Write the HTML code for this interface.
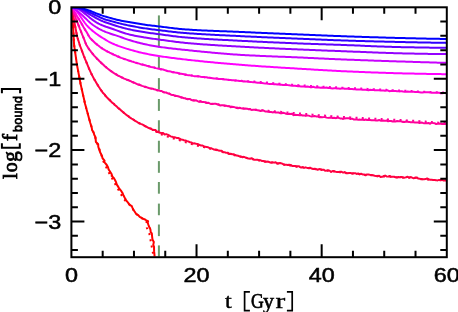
<!DOCTYPE html>
<html><head><meta charset="utf-8"><title>plot</title>
<style>html,body{margin:0;padding:0;background:#fff;}svg{display:block;will-change:transform;}</style></head>
<body>
<svg width="458" height="312" viewBox="0 0 458 312">
<rect x="0" y="0" width="458" height="312" fill="#fff"/>
<defs><clipPath id="c"><rect x="71.4" y="7.3" width="375.4" height="249.9"/></clipPath></defs>
<g stroke="#6a9a6a" stroke-width="2" fill="none">
<path d="M158.9 15.40 V47.50"/>
<path d="M158.9 56.90 V68.10"/>
<path d="M158.9 78.10 V89.60"/>
<path d="M158.9 99.00 V110.90"/>
<path d="M158.9 120.25 V131.75"/>
<path d="M158.9 140.75 V152.75"/>
<path d="M158.9 161.10 V172.80"/>
<path d="M158.9 182.00 V193.70"/>
<path d="M158.9 203.60 V215.25"/>
<path d="M158.9 224.50 V236.10"/>
<path d="M158.9 245.40 V256.50"/>
</g>
<g fill="none" stroke-width="2" stroke-linejoin="round" clip-path="url(#c)">
<path stroke="#ff0000" d="M71.60 7.30 L71.82 9.79 L72.03 12.28 L72.25 14.77 L72.46 17.26 L72.68 19.75 L72.70 20.00 L72.83 22.25 L72.97 24.75 L73.11 27.24 L73.25 29.74 L73.39 32.23 L73.52 34.73 L73.66 37.23 L73.80 39.72 L73.94 42.22 L74.08 44.71 L74.10 45.00 L74.42 47.19 L74.78 49.66 L75.14 52.14 L75.49 54.61 L75.85 57.09 L76.21 59.56 L76.57 62.04 L76.93 64.51 L77.00 65.00 L77.37 66.97 L77.84 69.43 L78.30 71.88 L78.77 74.34 L79.23 76.79 L79.70 79.25 L80.17 81.71 L80.60 84.00 L80.64 84.16 L81.19 86.60 L81.73 89.04 L82.28 91.48 L82.83 93.92 L83.38 96.36 L83.93 98.80 L84.48 101.24 L85.03 103.67 L85.10 104.00 L85.67 106.09 L86.33 108.50 L86.99 110.91 L87.65 113.32 L88.31 115.73 L88.97 118.15 L89.63 120.56 L90.29 122.97 L90.30 123.00 L91.03 125.34 L91.75 127.71 L92.10 130.08 L93.67 132.45 L94.22 134.82 L95.53 137.19 L95.70 139.56 L95.88 141.93 L96.96 143.00 L98.18 144.28 L98.27 146.60 L98.98 148.93 L99.78 151.26 L100.76 153.58 L101.97 155.91 L102.54 158.23 L104.53 160.56 L104.39 162.00 L105.01 162.83 L106.77 165.00 L108.02 167.18 L108.56 169.36 L110.01 171.54 L111.40 173.72 L112.17 175.75 L111.62 175.89 L113.81 178.08 L115.12 180.26 L116.14 182.45 L116.82 184.64 L118.32 186.82 L118.26 187.00 L119.50 189.00 L121.36 191.18 L122.68 193.36 L123.55 195.55 L124.73 197.73 L125.77 199.50 L125.80 199.86 L127.37 201.78 L128.73 203.70 L130.48 205.50 L131.50 205.63 L132.39 207.66 L133.36 209.70 L134.76 211.73 L136.06 213.77 L136.90 214.25 L138.43 215.39 L139.70 216.89 L141.94 218.00 L142.10 218.32 L145.09 219.52 L146.77 220.72 L148.09 221.10 L147.71 222.74 L148.51 225.13 L149.47 227.52 L149.92 228.00 L150.48 229.85 L150.71 232.16 L151.82 233.50 L151.93 234.54 L152.16 237.01 L152.47 239.48 L153.84 241.94 L153.39 244.41 L153.26 244.75 L154.04 246.90 L154.05 249.39 L154.18 251.88 L154.42 254.37 L154.60 256.50"/>
<path stroke="#ff0000" stroke-dasharray="2 4.3" d="M71.60 7.30 L71.82 9.79 L72.03 12.28 L72.25 14.77 L72.46 17.26 L72.68 19.75 L72.70 20.00 L72.83 22.25 L72.97 24.75 L73.11 27.24 L73.25 29.74 L73.39 32.23 L73.52 34.73 L73.66 37.23 L73.80 39.72 L73.94 42.22 L74.08 44.71 L74.10 45.00 L74.42 47.19 L74.78 49.66 L75.14 52.14 L75.49 54.61 L75.85 57.09 L76.21 59.56 L76.57 62.04 L76.93 64.51 L77.00 65.00 L77.37 66.97 L77.84 69.43 L78.30 71.88 L78.77 74.34 L79.23 76.79 L79.70 79.25 L80.17 81.71 L80.60 84.00 L80.64 84.16 L81.19 86.60 L81.73 89.04 L82.28 91.48 L82.83 93.92 L83.38 96.36 L83.93 98.80 L84.48 101.24 L85.03 103.67 L85.10 104.00 L85.67 106.09 L86.33 108.50 L86.99 110.91 L87.65 113.32 L88.31 115.73 L88.97 118.15 L89.63 120.56 L90.29 122.97 L90.30 123.00 L91.08 125.34 L91.88 127.71 L92.67 130.08 L93.47 132.45 L94.26 134.82 L95.05 137.19 L95.85 139.56 L96.64 141.93 L97.00 143.00 L97.50 144.28 L98.42 146.60 L99.34 148.93 L100.17 151.26 L100.92 153.58 L101.66 155.91 L102.41 158.23 L103.16 160.56 L103.63 162.00 L104.03 162.83 L105.10 165.00 L106.17 167.18 L107.24 169.36 L108.31 171.54 L109.50 173.72 L110.65 175.75 L110.73 175.89 L111.94 178.08 L113.16 180.26 L114.37 182.45 L115.59 184.64 L116.80 186.82 L116.90 187.00 L118.02 189.00 L119.24 191.18 L120.46 193.36 L121.69 195.55 L122.91 197.73 L124.18 199.50 L124.55 199.86 L126.50 201.78 L128.46 203.70 L130.20 205.50 L130.29 205.63 L131.75 207.66 L133.20 209.70 L134.65 211.73 L136.10 213.77 L136.45 214.25 L137.97 215.39 L139.97 216.89 L141.45 218.00 L142.02 218.32 L144.22 219.52 L146.13 220.72 L146.68 221.10 L146.55 222.74 L146.36 225.13 L146.79 227.52 L146.94 228.00 L147.74 229.85 L148.73 232.16 L149.31 233.50 L149.50 234.54 L149.96 237.01 L150.42 239.48 L150.87 241.94 L151.33 244.41 L151.39 244.75 L151.77 246.90 L152.23 249.39 L152.69 251.88 L153.16 254.37 L153.55 256.50"/>
<path stroke="#ff0040" d="M71.60 7.35 L73.10 15.02 L73.50 17.04 L74.60 23.06 L75.30 26.95 L76.10 31.20 L77.30 37.03 L77.60 38.00 L79.10 42.82 L79.75 45.01 L80.60 47.25 L82.10 51.17 L83.60 55.30 L84.50 57.40 L85.10 59.08 L86.60 62.72 L88.10 66.34 L89.60 69.83 L90.75 72.43 L91.10 73.19 L92.60 76.11 L94.10 79.01 L95.60 81.48 L97.00 84.00 L97.10 83.91 L98.60 86.46 L100.10 88.81 L101.60 90.97 L103.10 93.04 L104.60 94.44 L105.10 95.36 L106.10 96.56 L107.60 98.14 L109.10 99.40 L110.60 101.04 L112.10 102.66 L113.60 103.57 L114.50 104.67 L115.10 105.30 L116.60 106.41 L118.10 107.94 L119.60 109.04 L121.10 110.38 L122.60 111.65 L124.10 113.03 L125.60 114.19 L127.10 115.49 L128.60 116.33 L129.00 116.73 L130.10 117.66 L131.60 118.62 L133.10 119.34 L134.60 120.56 L136.10 121.30 L137.60 122.29 L139.00 123.04 L139.10 123.22 L140.60 123.86 L142.10 124.36 L143.60 125.18 L145.10 126.21 L146.60 126.79 L148.10 127.69 L149.60 128.25 L151.10 128.61 L152.60 129.90 L154.10 129.87 L155.60 130.05 L157.10 132.08 L158.60 131.27 L158.75 132.22 L160.10 132.84 L161.60 133.11 L163.10 133.00 L164.60 134.47 L166.10 134.12 L167.60 134.65 L169.10 135.48 L170.60 136.36 L172.10 136.67 L173.60 137.31 L175.10 137.33 L176.60 137.88 L178.10 138.00 L179.60 138.74 L181.10 139.51 L182.60 139.65 L184.10 140.38 L185.60 140.48 L186.00 140.59 L187.10 141.15 L188.60 141.53 L190.10 142.27 L191.60 142.58 L193.10 143.58 L194.60 143.35 L196.10 143.80 L197.60 143.96 L199.10 144.78 L200.60 145.46 L202.10 145.40 L203.60 146.09 L205.10 146.80 L206.60 146.94 L208.10 147.23 L209.60 148.19 L211.10 148.31 L212.60 148.85 L214.10 149.55 L214.50 149.65 L215.60 149.44 L217.10 149.81 L218.60 150.53 L220.10 150.82 L221.60 150.64 L223.10 152.19 L224.60 152.18 L226.10 152.87 L227.60 152.63 L229.10 153.92 L230.60 153.68 L232.10 154.26 L233.60 154.22 L235.10 155.05 L236.60 155.41 L238.10 155.80 L239.60 156.38 L241.10 156.60 L242.60 157.25 L243.00 156.84 L244.10 156.89 L245.60 157.55 L247.10 158.08 L248.60 158.61 L250.10 158.76 L251.60 158.15 L253.10 159.20 L254.60 159.87 L256.10 159.66 L257.60 159.74 L259.10 160.31 L260.60 160.30 L262.10 160.97 L263.60 161.00 L265.10 161.76 L266.60 161.71 L268.10 161.54 L269.60 162.25 L271.10 162.62 L272.60 162.34 L274.10 162.64 L275.60 162.22 L277.10 163.59 L278.60 163.30 L280.10 163.00 L281.60 163.36 L283.10 164.14 L284.60 164.71 L286.10 164.64 L287.60 165.07 L289.10 164.74 L290.60 164.89 L292.10 165.89 L293.60 165.98 L295.10 166.02 L296.60 166.70 L298.10 166.14 L299.60 166.54 L300.00 167.11 L301.10 167.56 L302.60 167.13 L304.10 167.94 L305.60 167.36 L307.10 167.90 L308.60 167.94 L310.10 167.66 L311.60 168.52 L313.10 168.97 L314.60 168.80 L316.10 169.04 L317.60 169.75 L319.10 169.03 L320.60 169.15 L322.10 169.65 L323.60 169.65 L325.10 170.74 L326.60 170.57 L328.10 170.35 L329.60 170.63 L331.10 172.03 L332.60 171.00 L334.10 171.12 L335.60 171.67 L337.10 171.97 L338.60 171.99 L340.10 171.76 L341.60 171.84 L343.10 172.61 L344.00 172.48 L344.60 171.99 L346.10 173.13 L347.60 173.15 L349.10 172.95 L350.60 173.10 L352.10 173.43 L353.60 173.26 L355.10 173.18 L356.60 173.92 L358.10 173.46 L359.60 174.25 L361.10 173.76 L362.60 174.38 L364.10 174.51 L365.60 175.33 L367.10 174.48 L368.60 174.50 L370.10 174.90 L371.60 174.88 L373.10 175.20 L374.60 175.68 L376.10 175.94 L377.60 176.38 L379.10 175.66 L380.60 176.97 L382.10 176.86 L383.60 176.21 L385.10 175.59 L386.60 176.47 L388.10 176.63 L389.60 175.90 L391.10 176.83 L392.60 176.83 L394.10 176.71 L395.60 177.29 L397.10 177.51 L398.60 177.06 L400.00 177.38 L400.10 177.08 L401.60 177.09 L403.10 177.44 L404.60 177.64 L406.10 177.29 L407.60 176.75 L409.10 177.76 L410.60 177.03 L412.10 177.68 L413.60 178.32 L415.10 177.77 L416.60 177.45 L417.00 177.39 L418.10 178.53 L419.60 178.65 L421.00 179.19 L421.10 179.33 L422.60 179.14 L424.10 179.19 L425.60 179.10 L427.10 178.47 L428.60 179.13 L430.10 179.74 L431.60 179.79 L433.10 180.08 L434.60 179.97 L436.10 180.14 L437.60 180.41 L439.10 179.88 L440.60 180.13 L442.10 179.70 L443.60 180.62 L445.10 180.31 L446.60 180.47 L446.80 180.84"/>
<path stroke="#ff0040" stroke-dasharray="2 4.3" d="M71.60 7.30 L72.60 12.30 L73.50 17.00 L73.60 17.54 L74.60 23.15 L75.30 27.00 L75.60 28.60 L76.60 33.84 L77.30 37.00 L77.60 38.15 L78.60 41.55 L79.60 44.56 L79.75 45.00 L80.60 47.43 L81.60 50.14 L82.60 52.72 L83.60 55.24 L84.50 57.50 L84.60 57.75 L85.60 60.28 L86.60 62.80 L87.60 65.28 L88.60 67.69 L89.60 70.00 L90.60 72.19 L90.75 72.50 L91.60 74.24 L92.60 76.22 L93.60 78.12 L94.60 79.95 L95.60 81.69 L96.60 83.36 L97.00 84.00 L97.60 84.95 L98.60 86.49 L99.60 87.98 L100.60 89.43 L101.60 90.82 L102.60 92.16 L103.60 93.44 L104.60 94.66 L105.10 95.25 L105.60 95.83 L106.60 96.94 L107.60 98.00 L108.60 99.03 L109.60 100.02 L110.60 100.99 L111.60 101.93 L112.60 102.86 L113.60 103.78 L114.50 104.60 L114.60 104.69 L115.60 105.60 L116.60 106.51 L117.60 107.41 L118.60 108.31 L119.60 109.19 L120.60 110.06 L121.60 110.92 L122.60 111.77 L123.60 112.60 L124.60 113.41 L125.60 114.20 L126.60 114.98 L127.60 115.73 L128.60 116.46 L129.00 116.75 L129.60 117.17 L130.60 117.86 L131.60 118.54 L132.60 119.20 L133.60 119.84 L134.60 120.46 L135.60 121.07 L136.60 121.66 L137.60 122.23 L138.60 122.78 L139.00 123.00 L139.60 123.32 L140.60 123.85 L141.60 124.36 L142.60 124.87 L143.60 125.38 L144.60 125.87 L145.60 126.35 L146.60 126.83 L147.60 127.30 L148.60 127.76 L149.60 128.21 L150.60 128.73 L151.60 129.29 L152.60 129.85 L153.60 130.39 L154.60 130.93 L155.60 131.46 L156.60 131.99 L157.60 132.51 L158.60 133.02 L158.75 133.09 L159.60 133.52 L160.60 134.02 L161.60 134.51 L162.60 134.92 L163.60 135.27 L164.60 135.61 L165.60 135.95 L166.60 136.29 L167.60 136.62 L168.60 136.95 L169.60 137.27 L170.60 137.59 L171.60 137.90 L172.60 138.22 L173.60 138.53 L174.60 138.83 L175.60 139.14 L176.60 139.44 L177.60 139.75 L178.60 140.05 L179.60 140.35 L180.60 140.65 L181.60 140.96 L182.60 141.26 L183.60 141.56 L184.60 141.87 L185.60 142.18 L186.00 142.30 L186.60 142.49 L187.60 142.79 L188.60 143.10 L189.60 143.41 L190.60 143.71 L191.60 144.02 L192.60 144.32 L193.60 144.62 L194.60 144.93 L195.60 145.19 L196.60 145.43 L197.60 145.67 L198.60 145.91 L199.60 146.15 L200.60 146.38 L201.60 146.62 L202.60 146.85 L203.60 147.09 L204.60 147.32 L205.60 147.55 L206.60 147.78 L207.60 148.02 L208.60 148.24 L209.60 148.47 L210.60 148.70 L211.60 148.93 L212.60 149.15 L213.60 149.38 L214.50 149.58 L214.60 149.60 L215.60 149.86 L216.60 150.15 L217.60 150.44 L218.60 150.72 L219.60 151.01 L220.60 151.30 L221.60 151.59 L222.60 151.88 L223.60 152.17 L224.60 152.46 L225.60 152.75 L226.60 153.04 L227.60 153.32 L228.60 153.61 L229.60 153.89 L230.60 154.17 L231.60 154.44 L232.60 154.71 L233.60 154.98 L234.60 155.25 L235.60 155.51 L236.60 155.76 L237.60 156.01 L238.60 156.26 L239.60 156.50 L240.60 156.73 L241.60 156.96 L242.60 157.18 L243.00 157.26 L243.60 157.39 L244.60 157.60 L245.60 157.81 L246.60 158.02 L247.60 158.23 L248.60 158.43 L249.60 158.63 L250.60 158.83 L251.60 159.03 L252.60 159.22 L253.60 159.41 L254.60 159.60 L255.60 159.79 L256.60 159.98 L257.60 160.17 L258.60 160.35 L259.60 160.53 L260.60 160.71 L261.60 160.89 L262.60 161.07 L263.60 161.25 L264.60 161.42 L265.60 161.59 L266.60 161.77 L267.60 161.94 L268.60 162.10 L269.60 162.27 L270.60 162.44 L271.60 162.60 L272.60 162.77 L273.60 162.93 L274.60 163.09 L275.60 163.25 L276.60 163.41 L277.60 163.57 L278.60 163.73 L279.60 163.88 L280.60 164.04 L281.60 164.20 L282.60 164.35 L283.60 164.50 L284.60 164.66 L285.60 164.81 L286.60 164.96 L287.60 165.11 L288.60 165.26 L289.60 165.41 L290.60 165.56 L291.60 165.71 L292.60 165.85 L293.60 166.00 L294.60 166.15 L295.60 166.30 L296.60 166.44 L297.60 166.59 L298.60 166.74 L299.60 166.88 L300.00 166.94 L300.60 167.03 L301.60 167.17 L302.60 167.32 L303.60 167.46 L304.60 167.61 L305.60 167.75 L306.60 167.90 L307.60 168.04 L308.60 168.18 L309.60 168.32 L310.60 168.46 L311.60 168.60 L312.60 168.74 L313.60 168.88 L314.60 169.02 L315.60 169.16 L316.60 169.30 L317.60 169.43 L318.60 169.57 L319.60 169.70 L320.60 169.84 L321.60 169.97 L322.60 170.10 L323.60 170.23 L324.60 170.36 L325.60 170.49 L326.60 170.62 L327.60 170.74 L328.60 170.87 L329.60 170.99 L330.60 171.12 L331.60 171.24 L332.60 171.36 L333.60 171.48 L334.60 171.60 L335.60 171.71 L336.60 171.83 L337.60 171.94 L338.60 172.05 L339.60 172.16 L340.60 172.27 L341.60 172.38 L342.60 172.49 L343.60 172.59 L344.00 172.63 L344.60 172.69 L345.60 172.80 L346.60 172.90 L347.60 173.00 L348.60 173.11 L349.60 173.21 L350.60 173.31 L351.60 173.42 L352.60 173.52 L353.60 173.62 L354.60 173.72 L355.60 173.82 L356.60 173.92 L357.60 174.02 L358.60 174.12 L359.60 174.22 L360.60 174.32 L361.60 174.42 L362.60 174.52 L363.60 174.62 L364.60 174.71 L365.60 174.81 L366.60 174.90 L367.60 175.00 L368.60 175.09 L369.60 175.18 L370.60 175.28 L371.60 175.37 L372.60 175.46 L373.60 175.54 L374.60 175.63 L375.60 175.72 L376.60 175.80 L377.60 175.89 L378.60 175.97 L379.60 176.05 L380.60 176.13 L381.60 176.21 L382.60 176.29 L383.60 176.36 L384.60 176.43 L385.60 176.51 L386.60 176.58 L387.60 176.65 L388.60 176.72 L389.60 176.78 L390.60 176.85 L391.60 176.91 L392.60 176.97 L393.60 177.03 L394.60 177.09 L395.60 177.14 L396.60 177.19 L397.60 177.25 L398.60 177.30 L399.60 177.34 L400.00 177.36 L400.60 177.39 L401.60 177.42 L402.60 177.46 L403.60 177.48 L404.60 177.51 L405.60 177.53 L406.60 177.55 L407.60 177.57 L408.60 177.59 L409.60 177.62 L410.60 177.64 L411.60 177.67 L412.60 177.70 L413.60 177.74 L414.60 177.79 L415.60 177.85 L416.60 177.91 L417.00 177.94 L417.60 178.03 L418.60 178.33 L419.60 178.69 L420.60 178.97 L421.00 179.03 L421.60 179.09 L422.60 179.19 L423.60 179.28 L424.60 179.37 L425.60 179.45 L426.60 179.53 L427.60 179.61 L428.60 179.68 L429.60 179.75 L430.60 179.81 L431.60 179.87 L432.60 179.93 L433.60 179.98 L434.60 180.03 L435.60 180.07 L436.60 180.11 L437.60 180.15 L438.60 180.18 L439.60 180.21 L440.60 180.23 L441.60 180.26 L442.60 180.27 L443.60 180.28 L444.60 180.29 L445.60 180.30 L446.60 180.30 L446.80 180.30"/>
<path stroke="#ff0099" d="M71.60 7.43 L73.10 11.15 L74.00 13.59 L74.60 14.91 L76.00 18.85 L76.10 19.08 L77.60 22.78 L78.00 24.16 L79.10 26.68 L80.00 29.08 L80.60 30.45 L82.00 34.12 L82.10 34.41 L83.60 37.90 L84.00 38.82 L85.10 41.89 L86.40 45.10 L86.60 45.33 L88.10 47.79 L89.60 50.02 L90.00 50.17 L91.10 51.87 L92.60 53.65 L94.10 55.61 L95.60 57.16 L97.00 58.62 L97.10 58.81 L98.60 60.21 L100.10 61.83 L101.60 63.15 L103.00 64.45 L103.10 64.50 L104.60 66.04 L106.10 67.24 L107.60 68.58 L109.10 69.76 L109.50 69.90 L110.60 70.87 L112.10 71.89 L113.60 72.90 L115.10 73.76 L116.60 74.66 L118.00 75.59 L118.10 75.82 L119.60 76.24 L121.10 77.15 L122.60 77.75 L124.10 78.57 L125.60 79.19 L127.10 79.92 L128.60 80.09 L129.00 80.53 L130.10 80.95 L131.60 81.70 L133.10 82.26 L134.60 82.90 L136.10 83.67 L137.60 84.42 L139.10 84.43 L140.60 85.29 L142.10 85.90 L143.60 86.37 L144.00 86.46 L145.10 86.68 L146.60 87.18 L148.10 87.80 L149.60 88.24 L151.10 88.53 L152.60 88.63 L154.10 89.29 L155.60 89.58 L157.10 90.21 L158.60 90.49 L158.75 90.31 L160.10 90.94 L161.60 90.98 L163.10 92.04 L164.60 92.61 L166.10 92.38 L167.60 93.34 L169.10 93.39 L170.60 94.50 L172.10 94.93 L173.60 95.06 L175.10 95.90 L176.60 95.93 L178.10 96.32 L179.60 96.78 L181.10 97.33 L182.60 97.67 L184.10 98.20 L185.60 98.32 L186.00 98.83 L187.10 99.15 L188.60 99.03 L190.10 99.08 L191.60 100.04 L193.10 100.48 L194.60 100.40 L196.10 100.37 L197.60 101.14 L199.10 101.81 L200.60 101.08 L202.10 102.08 L203.60 102.12 L205.10 102.24 L206.60 102.92 L208.10 102.65 L209.60 103.39 L211.10 103.96 L212.60 103.88 L214.10 103.82 L215.60 103.80 L217.10 104.20 L218.60 104.27 L220.10 105.55 L221.60 105.23 L223.10 105.23 L224.60 105.39 L226.10 105.69 L227.60 106.13 L229.10 106.07 L230.60 107.19 L232.10 106.68 L233.60 106.89 L235.10 107.43 L236.60 107.99 L238.10 108.16 L239.60 107.83 L241.10 108.26 L242.60 108.44 L243.00 108.61 L244.10 108.68 L245.60 108.52 L247.10 108.63 L248.60 109.26 L250.10 109.05 L251.60 110.01 L253.10 109.81 L254.60 109.69 L256.10 110.09 L257.60 110.22 L259.10 110.52 L260.60 111.03 L262.10 110.50 L263.60 110.55 L265.10 111.40 L266.60 111.42 L268.10 111.70 L269.60 111.96 L271.10 111.94 L272.60 112.41 L274.10 112.07 L275.60 112.53 L277.10 112.42 L278.60 112.50 L280.10 113.18 L281.60 113.33 L283.10 112.74 L284.60 113.14 L286.10 113.72 L287.60 114.11 L289.10 113.74 L290.60 114.04 L292.10 113.82 L293.60 115.14 L295.10 114.68 L296.60 114.95 L298.10 115.02 L299.60 115.24 L300.00 115.18 L301.10 115.00 L302.60 115.46 L304.10 115.40 L305.60 115.90 L307.10 115.43 L308.60 115.62 L310.10 116.11 L311.60 116.43 L313.10 116.21 L314.60 116.08 L316.10 116.39 L317.60 116.40 L319.10 117.24 L320.60 117.06 L322.10 117.29 L323.60 117.12 L325.10 116.98 L326.60 117.62 L328.10 117.88 L329.60 117.67 L331.10 117.60 L332.60 118.04 L334.10 117.71 L335.60 118.16 L337.10 117.82 L338.60 117.85 L340.10 118.41 L341.60 118.44 L343.10 119.01 L344.00 118.42 L344.60 118.55 L346.10 118.29 L347.60 118.17 L349.10 118.29 L350.60 119.05 L352.10 118.65 L353.60 119.43 L355.10 119.61 L356.60 119.18 L358.10 119.85 L359.60 119.50 L361.10 119.85 L362.60 119.53 L364.10 119.97 L365.60 119.48 L367.10 120.02 L368.60 119.78 L370.10 119.96 L371.60 120.26 L373.10 120.20 L374.60 120.20 L376.10 120.52 L377.60 120.62 L379.10 120.04 L380.60 120.70 L382.10 120.81 L383.60 120.46 L385.10 120.87 L386.60 120.44 L388.10 121.34 L389.60 120.91 L391.10 121.04 L392.60 121.50 L394.10 121.17 L395.60 121.48 L397.10 121.06 L398.60 121.28 L400.10 121.12 L401.60 121.56 L403.10 122.01 L404.00 121.82 L404.60 122.05 L406.10 121.56 L407.60 121.69 L409.10 121.90 L410.60 122.29 L412.10 122.31 L413.60 122.28 L415.10 122.56 L416.60 122.41 L418.10 122.54 L419.60 123.02 L421.10 122.54 L422.60 122.85 L424.10 123.37 L425.60 123.00 L427.10 123.27 L428.60 122.96 L430.10 123.82 L431.60 122.64 L433.10 123.06 L434.60 123.17 L436.10 124.06 L437.60 123.77 L439.10 123.67 L440.60 123.45 L442.10 124.03 L443.60 124.05 L445.10 123.89 L446.60 123.74 L446.80 123.87"/>
<path stroke="#ff0099" stroke-dasharray="2 4.3" d="M71.60 7.30 L72.60 9.86 L73.60 12.46 L74.00 13.50 L74.60 15.08 L75.60 17.74 L76.00 18.80 L76.60 20.37 L77.60 22.97 L78.00 24.00 L78.60 25.51 L79.60 28.00 L80.00 29.00 L80.60 30.50 L81.60 33.00 L82.00 34.00 L82.60 35.50 L83.60 38.00 L84.00 39.00 L84.60 40.56 L85.60 43.20 L86.40 45.00 L86.60 45.38 L87.60 47.09 L88.60 48.59 L89.60 49.96 L90.00 50.50 L90.60 51.30 L91.60 52.58 L92.60 53.82 L93.60 55.00 L94.60 56.14 L95.60 57.25 L96.60 58.33 L97.00 58.75 L97.60 59.37 L98.60 60.38 L99.60 61.36 L100.60 62.31 L101.60 63.23 L102.60 64.14 L103.00 64.50 L103.60 65.04 L104.60 65.93 L105.60 66.82 L106.60 67.68 L107.60 68.52 L108.60 69.32 L109.50 70.00 L109.60 70.07 L110.60 70.80 L111.60 71.51 L112.60 72.19 L113.60 72.86 L114.60 73.50 L115.60 74.12 L116.60 74.71 L117.60 75.28 L118.00 75.50 L118.60 75.82 L119.60 76.34 L120.60 76.84 L121.60 77.33 L122.60 77.80 L123.60 78.26 L124.60 78.70 L125.60 79.14 L126.60 79.57 L127.60 80.00 L128.60 80.43 L129.00 80.60 L129.60 80.86 L130.60 81.28 L131.60 81.71 L132.60 82.13 L133.60 82.56 L134.60 82.97 L135.60 83.38 L136.60 83.79 L137.60 84.19 L138.60 84.58 L139.60 84.96 L140.60 85.33 L141.60 85.69 L142.60 86.04 L143.60 86.37 L144.00 86.50 L144.60 86.69 L145.60 87.00 L146.60 87.29 L147.60 87.57 L148.60 87.84 L149.60 88.11 L150.60 88.37 L151.60 88.63 L152.60 88.88 L153.60 89.14 L154.60 89.39 L155.60 89.65 L156.60 89.91 L157.60 90.18 L158.60 90.46 L158.75 90.50 L159.60 90.74 L160.60 91.03 L161.60 91.33 L162.60 91.64 L163.60 91.94 L164.60 92.26 L165.60 92.57 L166.60 92.89 L167.60 93.21 L168.60 93.53 L169.60 93.85 L170.60 94.17 L171.60 94.50 L172.60 94.82 L173.60 95.13 L174.60 95.45 L175.60 95.76 L176.60 96.06 L177.60 96.36 L178.60 96.66 L179.60 96.95 L180.60 97.23 L181.60 97.50 L182.60 97.77 L183.60 98.03 L184.60 98.27 L185.60 98.51 L186.00 98.60 L186.60 98.73 L187.60 98.96 L188.60 99.18 L189.60 99.40 L190.60 99.61 L191.60 99.83 L192.60 100.04 L193.60 100.25 L194.60 100.45 L195.60 100.66 L196.60 100.86 L197.60 101.06 L198.60 101.26 L199.60 101.45 L200.60 101.65 L201.60 101.84 L202.60 102.03 L203.60 102.22 L204.60 102.40 L205.60 102.59 L206.60 102.77 L207.60 102.95 L208.60 103.13 L209.60 103.31 L210.60 103.48 L211.60 103.65 L212.60 103.83 L213.60 104.00 L214.60 104.17 L215.60 104.33 L216.60 104.50 L217.60 104.66 L218.60 104.83 L219.60 104.99 L220.60 105.15 L221.60 105.31 L222.60 105.46 L223.60 105.62 L224.60 105.78 L225.60 105.93 L226.60 106.08 L227.60 106.23 L228.60 106.38 L229.60 106.53 L230.60 106.68 L231.60 106.83 L232.60 106.98 L233.60 107.12 L234.60 107.27 L235.60 107.41 L236.60 107.55 L237.60 107.70 L238.60 107.84 L239.60 107.98 L240.60 108.10 L241.60 108.21 L242.60 108.32 L243.00 108.36 L243.60 108.42 L244.60 108.53 L245.60 108.64 L246.60 108.74 L247.60 108.85 L248.60 108.95 L249.60 109.05 L250.60 109.16 L251.60 109.26 L252.60 109.36 L253.60 109.46 L254.60 109.56 L255.60 109.65 L256.60 109.75 L257.60 109.85 L258.60 109.94 L259.60 110.04 L260.60 110.13 L261.60 110.22 L262.60 110.32 L263.60 110.41 L264.60 110.50 L265.60 110.59 L266.60 110.68 L267.60 110.76 L268.60 110.85 L269.60 110.94 L270.60 111.02 L271.60 111.11 L272.60 111.19 L273.60 111.27 L274.60 111.36 L275.60 111.44 L276.60 111.52 L277.60 111.60 L278.60 111.68 L279.60 111.76 L280.60 111.84 L281.60 111.94 L282.60 112.03 L283.60 112.12 L284.60 112.21 L285.60 112.30 L286.60 112.39 L287.60 112.47 L288.60 112.56 L289.60 112.65 L290.60 112.73 L291.60 112.82 L292.60 112.90 L293.60 112.98 L294.60 113.07 L295.60 113.15 L296.60 113.23 L297.60 113.31 L298.60 113.39 L299.60 113.47 L300.00 113.50 L300.60 113.56 L301.60 113.65 L302.60 113.74 L303.60 113.83 L304.60 113.92 L305.60 114.01 L306.60 114.10 L307.60 114.19 L308.60 114.28 L309.60 114.37 L310.60 114.46 L311.60 114.54 L312.60 114.63 L313.60 114.71 L314.60 114.80 L315.60 114.88 L316.60 114.97 L317.60 115.05 L318.60 115.13 L319.60 115.21 L320.60 115.29 L321.60 115.37 L322.60 115.45 L323.60 115.53 L324.60 115.61 L325.60 115.69 L326.60 115.77 L327.60 115.84 L328.60 115.92 L329.60 115.99 L330.60 116.07 L331.60 116.14 L332.60 116.21 L333.60 116.29 L334.60 116.36 L335.60 116.43 L336.60 116.50 L337.60 116.57 L338.60 116.64 L339.60 116.71 L340.60 116.77 L341.60 116.84 L342.60 116.91 L343.60 116.97 L344.00 117.00 L344.60 117.04 L345.60 117.10 L346.60 117.17 L347.60 117.23 L348.60 117.29 L349.60 117.35 L350.60 117.41 L351.60 117.47 L352.60 117.53 L353.60 117.59 L354.60 117.65 L355.60 117.71 L356.60 117.77 L357.60 117.82 L358.60 117.88 L359.60 117.93 L360.60 117.99 L361.60 118.04 L362.60 118.10 L363.60 118.15 L364.60 118.21 L365.60 118.26 L366.60 118.31 L367.60 118.36 L368.60 118.42 L369.60 118.47 L370.60 118.52 L371.60 118.57 L372.60 118.62 L373.60 118.67 L374.60 118.73 L375.60 118.78 L376.60 118.83 L377.60 118.88 L378.60 118.93 L379.60 118.98 L380.60 119.03 L381.60 119.08 L382.60 119.13 L383.60 119.18 L384.60 119.23 L385.60 119.28 L386.60 119.33 L387.60 119.38 L388.60 119.43 L389.60 119.49 L390.60 119.54 L391.60 119.59 L392.60 119.64 L393.60 119.69 L394.60 119.74 L395.60 119.80 L396.60 119.85 L397.60 119.90 L398.60 119.96 L399.60 120.01 L400.60 120.06 L401.60 120.12 L402.60 120.17 L403.60 120.23 L404.00 120.25 L404.60 120.28 L405.60 120.34 L406.60 120.40 L407.60 120.45 L408.60 120.51 L409.60 120.56 L410.60 120.62 L411.60 120.68 L412.60 120.73 L413.60 120.79 L414.60 120.85 L415.60 120.90 L416.60 120.96 L417.60 121.02 L418.60 121.07 L419.60 121.13 L420.60 121.20 L421.60 121.28 L422.60 121.36 L423.60 121.44 L424.60 121.52 L425.60 121.60 L426.60 121.68 L427.60 121.76 L428.60 121.84 L429.60 121.92 L430.60 122.00 L431.60 122.08 L432.60 122.16 L433.60 122.24 L434.60 122.32 L435.60 122.40 L436.60 122.48 L437.60 122.56 L438.60 122.64 L439.60 122.72 L440.60 122.80 L441.60 122.88 L442.60 122.96 L443.60 123.04 L444.60 123.12 L445.60 123.20 L446.60 123.28 L446.80 123.30"/>
<path stroke="#ff00cc" d="M71.60 7.31 L73.10 9.76 L74.60 12.21 L76.00 14.49 L76.10 14.56 L77.60 17.14 L78.00 17.74 L79.10 19.61 L80.60 22.10 L82.00 24.36 L82.10 24.51 L83.60 27.18 L85.10 29.71 L86.00 31.16 L86.60 32.04 L88.10 34.83 L89.60 37.24 L90.20 38.07 L91.10 39.02 L92.60 40.60 L94.10 42.02 L95.60 43.40 L97.10 44.52 L97.60 44.99 L98.60 45.76 L100.10 47.00 L101.60 47.98 L103.00 49.02 L103.10 49.03 L104.60 49.94 L106.10 50.80 L107.60 51.61 L109.10 52.20 L109.50 52.56 L110.60 53.09 L112.10 53.78 L113.60 54.60 L115.10 55.23 L116.60 55.98 L118.00 56.46 L118.10 56.49 L119.60 57.23 L121.10 57.88 L122.60 58.37 L124.10 58.95 L125.60 59.41 L127.10 59.88 L128.60 60.45 L129.00 60.69 L130.10 60.85 L131.60 61.41 L133.10 61.78 L134.60 62.36 L136.10 62.85 L137.60 63.15 L139.10 63.62 L140.60 64.15 L142.10 64.48 L143.60 64.82 L144.00 64.92 L145.10 65.18 L146.60 65.75 L148.10 66.05 L149.60 66.55 L151.10 67.00 L152.60 67.15 L154.10 67.54 L155.60 68.11 L157.10 68.38 L158.60 68.75 L158.75 68.50 L160.10 69.21 L161.60 69.30 L163.10 69.45 L164.60 70.06 L166.10 70.58 L167.60 71.19 L169.10 71.18 L170.60 71.39 L172.10 72.25 L173.60 72.30 L175.10 72.57 L176.60 72.78 L178.10 73.10 L179.60 73.78 L181.10 73.81 L182.60 74.05 L184.10 74.31 L185.60 74.87 L186.00 74.61 L187.10 74.96 L188.60 75.14 L190.10 75.36 L191.60 75.41 L193.10 75.85 L194.60 76.20 L196.10 76.16 L197.60 76.23 L199.10 76.37 L200.60 76.78 L202.10 76.90 L203.60 77.11 L205.10 77.31 L206.60 77.27 L208.10 77.78 L209.60 77.87 L211.10 77.99 L212.60 78.21 L214.10 78.48 L215.60 78.51 L217.10 78.53 L218.60 78.99 L220.10 78.91 L221.60 79.02 L223.10 79.05 L224.60 79.43 L226.10 79.43 L227.60 79.65 L229.10 79.95 L230.60 80.03 L232.10 80.33 L233.60 80.37 L235.10 80.41 L236.60 80.57 L238.10 80.69 L239.60 81.01 L241.10 81.06 L242.60 81.15 L243.00 81.38 L244.10 81.37 L245.60 81.44 L247.10 81.43 L248.60 81.87 L250.10 81.99 L251.60 82.11 L253.10 82.18 L254.60 82.27 L256.10 82.50 L257.60 82.71 L259.10 82.80 L260.60 82.94 L262.10 83.04 L263.60 83.30 L265.10 83.42 L266.60 83.41 L268.10 83.78 L269.60 83.92 L271.10 84.06 L272.60 84.05 L274.10 84.17 L275.60 84.16 L277.10 84.58 L278.60 84.27 L280.10 84.66 L281.60 84.80 L283.10 85.10 L284.60 85.09 L286.10 85.07 L287.60 85.12 L289.10 85.34 L290.60 85.58 L292.10 85.69 L293.60 85.76 L295.10 85.80 L296.60 85.98 L298.10 86.27 L299.60 86.06 L300.00 86.26 L301.10 86.57 L302.60 86.51 L304.10 86.46 L305.60 86.72 L307.10 86.60 L308.60 86.81 L310.10 87.14 L311.60 87.28 L313.10 86.83 L314.60 87.28 L316.10 87.55 L317.60 87.27 L319.10 87.47 L320.60 87.74 L322.10 87.53 L323.60 87.75 L325.10 87.76 L326.60 87.56 L328.10 87.98 L329.60 87.98 L331.10 88.23 L332.60 88.48 L334.10 88.35 L335.60 88.27 L337.10 88.47 L338.60 88.51 L340.10 88.71 L341.60 88.41 L343.10 88.53 L344.00 88.44 L344.60 88.87 L346.10 88.85 L347.60 88.83 L349.10 88.90 L350.60 88.99 L352.10 89.01 L353.60 89.18 L355.10 89.22 L356.60 89.58 L358.10 89.49 L359.60 89.39 L361.10 89.49 L362.60 89.83 L364.10 89.79 L365.60 89.83 L367.10 89.96 L368.60 90.16 L370.10 89.81 L371.60 89.95 L373.10 89.86 L374.60 90.27 L376.10 90.20 L377.60 90.22 L379.10 90.28 L380.60 90.56 L382.10 90.50 L383.60 90.51 L385.10 90.84 L386.60 90.56 L388.10 90.59 L389.60 91.24 L391.10 90.86 L392.60 90.90 L394.10 90.93 L395.60 91.09 L397.10 91.29 L398.60 91.35 L400.00 91.38 L400.10 91.26 L401.60 91.15 L403.10 91.48 L404.60 91.73 L406.10 91.72 L407.60 91.60 L409.10 91.81 L410.60 91.70 L412.10 91.81 L413.60 91.70 L415.10 91.90 L416.60 92.03 L418.10 92.05 L419.60 92.25 L421.10 92.48 L422.60 92.46 L424.10 92.28 L425.60 92.28 L427.10 92.35 L428.60 92.36 L430.10 92.58 L431.60 92.70 L433.10 92.72 L434.60 92.79 L436.10 92.84 L437.60 92.86 L439.10 92.83 L440.60 93.26 L442.10 93.22 L443.60 92.99 L445.10 93.05 L446.60 93.15 L446.80 93.25"/>
<path stroke="#ff00cc" stroke-dasharray="2 4.3" d="M71.60 7.30 L72.60 8.93 L73.60 10.56 L74.60 12.20 L75.60 13.84 L76.00 14.50 L76.60 15.49 L77.60 17.14 L78.00 17.80 L78.60 18.79 L79.60 20.43 L80.60 22.08 L81.60 23.73 L82.00 24.40 L82.60 25.41 L83.60 27.12 L84.60 28.84 L85.60 30.53 L86.00 31.20 L86.60 32.22 L87.60 33.96 L88.60 35.67 L89.60 37.21 L90.20 38.00 L90.60 38.48 L91.60 39.61 L92.60 40.64 L93.60 41.59 L94.60 42.49 L95.60 43.35 L96.60 44.18 L97.60 45.00 L98.60 45.81 L99.60 46.60 L100.60 47.36 L101.60 48.07 L102.60 48.75 L103.00 49.00 L103.60 49.37 L104.60 49.95 L105.60 50.50 L106.60 51.03 L107.60 51.54 L108.60 52.05 L109.50 52.50 L109.60 52.55 L110.60 53.05 L111.60 53.55 L112.60 54.04 L113.60 54.52 L114.60 54.99 L115.60 55.45 L116.60 55.90 L117.60 56.33 L118.00 56.50 L118.60 56.75 L119.60 57.16 L120.60 57.56 L121.60 57.95 L122.60 58.33 L123.60 58.71 L124.60 59.08 L125.60 59.43 L126.60 59.79 L127.60 60.13 L128.60 60.47 L129.00 60.60 L129.60 60.80 L130.60 61.12 L131.60 61.44 L132.60 61.75 L133.60 62.05 L134.60 62.35 L135.60 62.65 L136.60 62.94 L137.60 63.22 L138.60 63.51 L139.60 63.79 L140.60 64.07 L141.60 64.34 L142.60 64.62 L143.60 64.89 L144.00 65.00 L144.60 65.16 L145.60 65.43 L146.60 65.70 L147.60 65.96 L148.60 66.23 L149.60 66.49 L150.60 66.74 L151.60 67.00 L152.60 67.25 L153.60 67.50 L154.60 67.75 L155.60 67.99 L156.60 68.24 L157.60 68.48 L158.60 68.71 L158.75 68.75 L159.60 68.95 L160.60 69.19 L161.60 69.43 L162.60 69.67 L163.60 69.91 L164.60 70.15 L165.60 70.40 L166.60 70.64 L167.60 70.88 L168.60 71.12 L169.60 71.35 L170.60 71.59 L171.60 71.82 L172.60 72.05 L173.60 72.28 L174.60 72.50 L175.60 72.72 L176.60 72.94 L177.60 73.15 L178.60 73.35 L179.60 73.56 L180.60 73.75 L181.60 73.94 L182.60 74.13 L183.60 74.30 L184.60 74.47 L185.60 74.64 L186.00 74.70 L186.60 74.79 L187.60 74.95 L188.60 75.10 L189.60 75.25 L190.60 75.39 L191.60 75.54 L192.60 75.68 L193.60 75.82 L194.60 75.96 L195.60 76.10 L196.60 76.23 L197.60 76.37 L198.60 76.50 L199.60 76.63 L200.60 76.75 L201.60 76.88 L202.60 77.01 L203.60 77.13 L204.60 77.25 L205.60 77.37 L206.60 77.49 L207.60 77.61 L208.60 77.72 L209.60 77.84 L210.60 77.95 L211.60 78.06 L212.60 78.17 L213.60 78.28 L214.60 78.39 L215.60 78.50 L216.60 78.61 L217.60 78.71 L218.60 78.82 L219.60 78.92 L220.60 79.02 L221.60 79.13 L222.60 79.23 L223.60 79.33 L224.60 79.43 L225.60 79.53 L226.60 79.63 L227.60 79.73 L228.60 79.83 L229.60 79.93 L230.60 80.03 L231.60 80.13 L232.60 80.23 L233.60 80.32 L234.60 80.42 L235.60 80.50 L236.60 80.55 L237.60 80.61 L238.60 80.67 L239.60 80.73 L240.60 80.79 L241.60 80.85 L242.60 80.91 L243.00 80.93 L243.60 80.97 L244.60 81.02 L245.60 81.08 L246.60 81.14 L247.60 81.20 L248.60 81.26 L249.60 81.32 L250.60 81.38 L251.60 81.43 L252.60 81.49 L253.60 81.55 L254.60 81.61 L255.60 81.66 L256.60 81.72 L257.60 81.78 L258.60 81.83 L259.60 81.89 L260.60 81.97 L261.60 82.06 L262.60 82.15 L263.60 82.25 L264.60 82.34 L265.60 82.43 L266.60 82.53 L267.60 82.62 L268.60 82.71 L269.60 82.80 L270.60 82.89 L271.60 82.98 L272.60 83.07 L273.60 83.16 L274.60 83.25 L275.60 83.33 L276.60 83.42 L277.60 83.51 L278.60 83.59 L279.60 83.68 L280.60 83.76 L281.60 83.85 L282.60 83.93 L283.60 84.01 L284.60 84.09 L285.60 84.17 L286.60 84.25 L287.60 84.33 L288.60 84.41 L289.60 84.49 L290.60 84.57 L291.60 84.64 L292.60 84.72 L293.60 84.79 L294.60 84.87 L295.60 84.94 L296.60 85.01 L297.60 85.08 L298.60 85.15 L299.60 85.22 L300.00 85.25 L300.60 85.29 L301.60 85.36 L302.60 85.43 L303.60 85.49 L304.60 85.56 L305.60 85.62 L306.60 85.69 L307.60 85.75 L308.60 85.81 L309.60 85.87 L310.60 85.93 L311.60 86.00 L312.60 86.06 L313.60 86.12 L314.60 86.17 L315.60 86.23 L316.60 86.29 L317.60 86.35 L318.60 86.41 L319.60 86.46 L320.60 86.52 L321.60 86.57 L322.60 86.63 L323.60 86.68 L324.60 86.74 L325.60 86.79 L326.60 86.85 L327.60 86.90 L328.60 86.95 L329.60 87.01 L330.60 87.06 L331.60 87.11 L332.60 87.17 L333.60 87.22 L334.60 87.27 L335.60 87.32 L336.60 87.37 L337.60 87.42 L338.60 87.47 L339.60 87.53 L340.60 87.58 L341.60 87.63 L342.60 87.68 L343.60 87.73 L344.00 87.75 L344.60 87.78 L345.60 87.83 L346.60 87.88 L347.60 87.93 L348.60 87.98 L349.60 88.03 L350.60 88.08 L351.60 88.13 L352.60 88.18 L353.60 88.22 L354.60 88.27 L355.60 88.32 L356.60 88.37 L357.60 88.42 L358.60 88.46 L359.60 88.51 L360.60 88.56 L361.60 88.61 L362.60 88.66 L363.60 88.72 L364.60 88.77 L365.60 88.82 L366.60 88.87 L367.60 88.92 L368.60 88.97 L369.60 89.02 L370.60 89.07 L371.60 89.13 L372.60 89.18 L373.60 89.23 L374.60 89.28 L375.60 89.33 L376.60 89.38 L377.60 89.43 L378.60 89.48 L379.60 89.53 L380.60 89.58 L381.60 89.63 L382.60 89.67 L383.60 89.72 L384.60 89.77 L385.60 89.82 L386.60 89.87 L387.60 89.92 L388.60 89.97 L389.60 90.02 L390.60 90.07 L391.60 90.12 L392.60 90.17 L393.60 90.22 L394.60 90.27 L395.60 90.31 L396.60 90.36 L397.60 90.41 L398.60 90.46 L399.60 90.51 L400.00 90.53 L400.60 90.56 L401.60 90.61 L402.60 90.66 L403.60 90.71 L404.60 90.76 L405.60 90.80 L406.60 90.85 L407.60 90.90 L408.60 90.95 L409.60 91.00 L410.60 91.05 L411.60 91.10 L412.60 91.14 L413.60 91.19 L414.60 91.24 L415.60 91.29 L416.60 91.34 L417.60 91.38 L418.60 91.43 L419.60 91.48 L420.60 91.53 L421.60 91.58 L422.60 91.62 L423.60 91.67 L424.60 91.72 L425.60 91.77 L426.60 91.81 L427.60 91.86 L428.60 91.91 L429.60 91.95 L430.60 92.00 L431.60 92.05 L432.60 92.09 L433.60 92.14 L434.60 92.19 L435.60 92.23 L436.60 92.28 L437.60 92.33 L438.60 92.37 L439.60 92.42 L440.60 92.47 L441.60 92.51 L442.60 92.56 L443.60 92.60 L444.60 92.65 L445.60 92.70 L446.60 92.74 L446.80 92.75"/>
<path stroke="#ff00ff" d="M71.60 7.30 L73.10 8.31 L74.60 9.53 L76.00 10.80 L76.10 10.90 L77.60 12.52 L78.00 13.00 L79.10 14.47 L80.60 16.70 L82.00 18.80 L82.10 18.95 L83.60 21.19 L84.90 23.00 L85.10 23.25 L86.60 25.06 L88.10 26.71 L89.60 28.22 L90.00 28.60 L91.10 29.60 L92.60 30.86 L94.10 32.05 L95.60 33.18 L97.00 34.20 L97.10 34.27 L98.60 35.33 L100.10 36.33 L101.60 37.31 L102.70 38.00 L103.10 38.25 L104.60 39.19 L106.10 40.11 L107.60 41.00 L109.10 41.83 L110.00 42.30 L110.60 42.60 L112.10 43.32 L113.60 44.00 L115.10 44.65 L116.60 45.26 L118.00 45.80 L118.10 45.84 L119.60 46.39 L121.10 46.92 L122.60 47.42 L124.10 47.91 L125.60 48.38 L127.10 48.84 L128.60 49.28 L129.00 49.40 L130.10 49.72 L131.60 50.15 L133.10 50.57 L134.60 50.98 L136.10 51.39 L137.60 51.78 L139.10 52.16 L140.60 52.53 L142.10 52.88 L143.60 53.21 L144.00 53.30 L145.10 53.53 L146.60 53.84 L148.10 54.14 L149.60 54.43 L151.10 54.71 L152.60 54.98 L154.10 55.24 L155.60 55.49 L157.10 55.74 L158.60 55.98 L158.75 56.00 L160.10 56.21 L161.60 56.44 L163.10 56.66 L164.60 56.88 L166.10 57.09 L167.60 57.30 L169.10 57.51 L170.60 57.71 L172.10 57.91 L173.60 58.11 L175.10 58.30 L176.60 58.49 L178.10 58.67 L179.60 58.86 L181.10 59.03 L182.60 59.21 L184.10 59.38 L185.60 59.55 L186.00 59.60 L187.10 59.72 L188.60 59.89 L190.10 60.06 L191.60 60.22 L193.10 60.38 L194.60 60.54 L196.10 60.70 L197.60 60.86 L199.10 61.02 L200.60 61.17 L202.10 61.33 L203.60 61.48 L205.10 61.63 L206.60 61.78 L208.10 61.93 L209.60 62.08 L211.10 62.22 L212.60 62.37 L214.10 62.51 L215.60 62.65 L217.10 62.79 L218.60 62.93 L220.10 63.07 L221.60 63.20 L223.10 63.34 L224.60 63.47 L226.10 63.60 L227.60 63.74 L229.10 63.86 L230.60 63.99 L232.10 64.12 L233.60 64.24 L235.10 64.37 L236.60 64.49 L238.10 64.61 L239.60 64.73 L241.10 64.85 L242.60 64.97 L243.00 65.00 L244.10 65.09 L245.60 65.20 L247.10 65.31 L248.60 65.42 L250.10 65.54 L251.60 65.64 L253.10 65.75 L254.60 65.86 L256.10 65.97 L257.60 66.07 L259.10 66.17 L260.60 66.28 L262.10 66.38 L263.60 66.48 L265.10 66.58 L266.60 66.68 L268.10 66.78 L269.60 66.87 L271.10 66.97 L272.60 67.07 L274.10 67.16 L275.60 67.26 L277.10 67.35 L278.60 67.44 L280.10 67.54 L281.60 67.63 L283.10 67.72 L284.60 67.81 L286.10 67.91 L287.60 68.00 L289.10 68.09 L290.60 68.18 L292.10 68.27 L293.60 68.36 L295.10 68.45 L296.60 68.54 L298.10 68.63 L299.60 68.73 L300.00 68.75 L301.10 68.82 L302.60 68.91 L304.10 69.00 L305.60 69.09 L307.10 69.19 L308.60 69.28 L310.10 69.37 L311.60 69.46 L313.10 69.55 L314.60 69.65 L316.10 69.74 L317.60 69.83 L319.10 69.92 L320.60 70.01 L322.10 70.10 L323.60 70.18 L325.10 70.27 L326.60 70.36 L328.10 70.44 L329.60 70.52 L331.10 70.61 L332.60 70.69 L334.10 70.77 L335.60 70.85 L337.10 70.92 L338.60 71.00 L340.10 71.07 L341.60 71.14 L343.10 71.21 L344.00 71.25 L344.60 71.28 L346.10 71.34 L347.60 71.41 L349.10 71.47 L350.60 71.54 L352.10 71.60 L353.60 71.67 L355.10 71.73 L356.60 71.79 L358.10 71.86 L359.60 71.92 L361.10 71.98 L362.60 72.04 L364.10 72.10 L365.60 72.16 L367.10 72.22 L368.60 72.27 L370.10 72.33 L371.60 72.39 L373.10 72.44 L374.60 72.50 L376.10 72.55 L377.60 72.61 L379.10 72.66 L380.60 72.71 L382.10 72.76 L383.60 72.81 L385.10 72.86 L386.60 72.91 L388.10 72.96 L389.60 73.00 L391.10 73.05 L392.60 73.09 L394.10 73.14 L395.60 73.18 L397.10 73.22 L398.60 73.26 L400.10 73.30 L401.60 73.34 L403.10 73.38 L404.00 73.40 L404.60 73.41 L406.10 73.45 L407.60 73.49 L409.10 73.52 L410.60 73.56 L412.10 73.59 L413.60 73.62 L415.10 73.66 L416.60 73.69 L418.10 73.72 L419.60 73.75 L421.10 73.78 L422.60 73.81 L424.10 73.84 L425.60 73.87 L427.10 73.90 L428.60 73.93 L430.10 73.95 L431.60 73.98 L433.10 74.01 L434.60 74.03 L436.10 74.05 L437.60 74.08 L439.10 74.10 L440.60 74.12 L442.10 74.14 L443.60 74.16 L445.10 74.18 L446.60 74.20 L446.80 74.20"/>
<path stroke="#c800ff" d="M71.60 7.30 L73.10 8.14 L74.60 9.08 L76.10 10.10 L77.60 11.20 L78.00 11.50 L79.10 12.39 L80.60 13.72 L82.00 15.00 L82.10 15.09 L83.60 16.50 L85.10 17.94 L86.00 18.80 L86.60 19.38 L88.10 20.88 L89.60 22.31 L90.40 23.00 L91.10 23.56 L92.60 24.70 L94.10 25.76 L95.60 26.74 L97.00 27.60 L97.10 27.66 L98.60 28.52 L100.10 29.33 L101.60 30.09 L103.10 30.80 L104.00 31.20 L104.60 31.46 L106.10 32.07 L107.60 32.64 L109.10 33.18 L110.00 33.50 L110.60 33.71 L112.10 34.21 L113.60 34.69 L115.10 35.16 L116.60 35.64 L118.00 36.10 L118.10 36.13 L119.60 36.66 L121.10 37.20 L122.60 37.76 L124.10 38.32 L125.60 38.86 L127.10 39.38 L128.60 39.88 L129.00 40.00 L130.10 40.33 L131.60 40.78 L133.10 41.22 L134.60 41.64 L136.10 42.06 L137.60 42.46 L139.10 42.84 L140.60 43.21 L142.10 43.57 L143.60 43.91 L144.00 44.00 L145.10 44.24 L146.60 44.56 L148.10 44.87 L149.60 45.16 L151.10 45.45 L152.60 45.73 L154.10 46.00 L155.60 46.25 L157.10 46.50 L158.60 46.73 L158.75 46.75 L160.10 46.95 L161.60 47.16 L163.10 47.37 L164.60 47.57 L166.10 47.77 L167.60 47.96 L169.10 48.14 L170.60 48.32 L172.10 48.50 L173.60 48.67 L175.10 48.84 L176.60 49.01 L178.10 49.17 L179.60 49.33 L181.10 49.49 L182.60 49.65 L184.10 49.80 L185.60 49.96 L186.00 50.00 L187.10 50.11 L188.60 50.27 L190.10 50.42 L191.60 50.58 L193.10 50.73 L194.60 50.88 L196.10 51.03 L197.60 51.18 L199.10 51.34 L200.60 51.48 L202.10 51.63 L203.60 51.78 L205.10 51.93 L206.60 52.07 L208.10 52.22 L209.60 52.36 L211.10 52.50 L212.60 52.64 L214.10 52.78 L215.60 52.92 L217.10 53.05 L218.60 53.18 L220.10 53.31 L221.60 53.44 L223.10 53.57 L224.60 53.69 L226.10 53.82 L227.60 53.94 L229.10 54.05 L230.60 54.17 L232.10 54.28 L233.60 54.39 L235.10 54.49 L236.60 54.60 L238.10 54.70 L239.60 54.79 L241.10 54.89 L242.60 54.98 L243.00 55.00 L244.10 55.06 L245.60 55.15 L247.10 55.23 L248.60 55.31 L250.10 55.39 L251.60 55.47 L253.10 55.54 L254.60 55.61 L256.10 55.69 L257.60 55.76 L259.10 55.82 L260.60 55.89 L262.10 55.96 L263.60 56.02 L265.10 56.09 L266.60 56.15 L268.10 56.21 L269.60 56.27 L271.10 56.33 L272.60 56.39 L274.10 56.45 L275.60 56.51 L277.10 56.57 L278.60 56.63 L280.10 56.69 L281.60 56.74 L283.10 56.80 L284.60 56.86 L286.10 56.92 L287.60 56.98 L289.10 57.04 L290.60 57.10 L292.10 57.16 L293.60 57.22 L295.10 57.29 L296.60 57.35 L298.10 57.42 L299.60 57.48 L300.00 57.50 L301.10 57.55 L302.60 57.62 L304.10 57.69 L305.60 57.75 L307.10 57.82 L308.60 57.89 L310.10 57.96 L311.60 58.04 L313.10 58.11 L314.60 58.18 L316.10 58.25 L317.60 58.32 L319.10 58.39 L320.60 58.46 L322.10 58.53 L323.60 58.60 L325.10 58.67 L326.60 58.74 L328.10 58.81 L329.60 58.88 L331.10 58.95 L332.60 59.02 L334.10 59.08 L335.60 59.15 L337.10 59.21 L338.60 59.28 L340.10 59.34 L341.60 59.40 L343.10 59.46 L344.00 59.50 L344.60 59.52 L346.10 59.58 L347.60 59.64 L349.10 59.70 L350.60 59.76 L352.10 59.82 L353.60 59.87 L355.10 59.93 L356.60 59.98 L358.10 60.04 L359.60 60.09 L361.10 60.15 L362.60 60.20 L364.10 60.26 L365.60 60.31 L367.10 60.36 L368.60 60.42 L370.10 60.47 L371.60 60.52 L373.10 60.57 L374.60 60.63 L376.10 60.68 L377.60 60.73 L379.10 60.78 L380.60 60.83 L382.10 60.88 L383.60 60.93 L385.10 60.98 L386.60 61.03 L388.10 61.08 L389.60 61.13 L391.10 61.18 L392.60 61.23 L394.10 61.28 L395.60 61.33 L397.10 61.38 L398.60 61.42 L400.10 61.47 L401.60 61.52 L403.10 61.57 L404.00 61.60 L404.60 61.62 L406.10 61.67 L407.60 61.72 L409.10 61.76 L410.60 61.81 L412.10 61.86 L413.60 61.91 L415.10 61.95 L416.60 62.00 L418.10 62.05 L419.60 62.09 L421.10 62.14 L422.60 62.19 L424.10 62.23 L425.60 62.28 L427.10 62.32 L428.60 62.37 L430.10 62.41 L431.60 62.46 L433.10 62.50 L434.60 62.55 L436.10 62.59 L437.60 62.63 L439.10 62.68 L440.60 62.72 L442.10 62.77 L443.60 62.81 L445.10 62.85 L446.60 62.89 L446.80 62.90"/>
<path stroke="#9400ff" d="M71.60 7.30 L73.10 7.49 L74.60 7.84 L76.10 8.31 L77.60 8.85 L78.00 9.00 L79.10 9.51 L80.60 10.44 L82.00 11.40 L82.10 11.47 L83.60 12.61 L85.10 13.86 L86.00 14.60 L86.60 15.09 L88.10 16.36 L89.60 17.59 L90.00 17.90 L91.10 18.73 L92.60 19.85 L94.10 20.93 L95.60 21.93 L97.10 22.83 L97.40 23.00 L98.60 23.63 L100.10 24.36 L101.60 25.03 L103.10 25.65 L104.00 26.00 L104.60 26.22 L106.10 26.74 L107.60 27.22 L109.10 27.70 L110.00 28.00 L110.60 28.21 L112.10 28.75 L113.60 29.31 L115.10 29.86 L116.60 30.41 L118.00 30.90 L118.10 30.93 L119.60 31.45 L121.10 31.97 L122.60 32.48 L124.10 32.97 L125.60 33.45 L127.10 33.89 L128.60 34.30 L129.00 34.40 L130.10 34.67 L131.60 35.02 L133.10 35.35 L134.60 35.67 L136.10 35.98 L137.60 36.27 L139.10 36.55 L140.60 36.82 L142.10 37.08 L143.60 37.33 L144.00 37.40 L145.10 37.58 L146.60 37.82 L148.10 38.04 L149.60 38.26 L151.10 38.47 L152.60 38.68 L154.10 38.88 L155.60 39.08 L157.10 39.28 L158.60 39.48 L158.75 39.50 L160.10 39.68 L161.60 39.89 L163.10 40.10 L164.60 40.31 L166.10 40.51 L167.60 40.72 L169.10 40.93 L170.60 41.13 L172.10 41.34 L173.60 41.54 L175.10 41.73 L176.60 41.92 L178.10 42.10 L179.60 42.28 L181.10 42.45 L182.60 42.61 L184.10 42.77 L185.60 42.91 L186.00 42.95 L187.10 43.05 L188.60 43.18 L190.10 43.31 L191.60 43.44 L193.10 43.57 L194.60 43.69 L196.10 43.81 L197.60 43.93 L199.10 44.05 L200.60 44.16 L202.10 44.27 L203.60 44.38 L205.10 44.49 L206.60 44.60 L208.10 44.70 L209.60 44.80 L211.10 44.91 L212.60 45.01 L214.10 45.10 L215.60 45.20 L217.10 45.29 L218.60 45.39 L220.10 45.48 L221.60 45.57 L223.10 45.66 L224.60 45.75 L226.10 45.84 L227.60 45.93 L229.10 46.02 L230.60 46.10 L232.10 46.19 L233.60 46.27 L235.10 46.36 L236.60 46.44 L238.10 46.53 L239.60 46.61 L241.10 46.69 L242.60 46.78 L243.00 46.80 L244.10 46.86 L245.60 46.94 L247.10 47.02 L248.60 47.11 L250.10 47.18 L251.60 47.26 L253.10 47.34 L254.60 47.42 L256.10 47.50 L257.60 47.57 L259.10 47.65 L260.60 47.72 L262.10 47.79 L263.60 47.87 L265.10 47.94 L266.60 48.01 L268.10 48.08 L269.60 48.15 L271.10 48.22 L272.60 48.29 L274.10 48.36 L275.60 48.43 L277.10 48.50 L278.60 48.56 L280.10 48.63 L281.60 48.70 L283.10 48.76 L284.60 48.83 L286.10 48.90 L287.60 48.96 L289.10 49.03 L290.60 49.09 L292.10 49.16 L293.60 49.22 L295.10 49.29 L296.60 49.35 L298.10 49.42 L299.60 49.48 L300.00 49.50 L301.10 49.55 L302.60 49.61 L304.10 49.67 L305.60 49.74 L307.10 49.80 L308.60 49.86 L310.10 49.93 L311.60 49.99 L313.10 50.05 L314.60 50.11 L316.10 50.17 L317.60 50.23 L319.10 50.29 L320.60 50.35 L322.10 50.41 L323.60 50.47 L325.10 50.53 L326.60 50.58 L328.10 50.64 L329.60 50.70 L331.10 50.76 L332.60 50.82 L334.10 50.87 L335.60 50.93 L337.10 50.99 L338.60 51.05 L340.10 51.10 L341.60 51.16 L343.10 51.22 L344.00 51.25 L344.60 51.27 L346.10 51.33 L347.60 51.39 L349.10 51.45 L350.60 51.51 L352.10 51.57 L353.60 51.63 L355.10 51.69 L356.60 51.75 L358.10 51.81 L359.60 51.87 L361.10 51.93 L362.60 51.99 L364.10 52.05 L365.60 52.11 L367.10 52.17 L368.60 52.23 L370.10 52.29 L371.60 52.35 L373.10 52.41 L374.60 52.47 L376.10 52.52 L377.60 52.58 L379.10 52.64 L380.60 52.69 L382.10 52.75 L383.60 52.80 L385.10 52.85 L386.60 52.90 L388.10 52.96 L389.60 53.00 L391.10 53.05 L392.60 53.10 L394.10 53.14 L395.60 53.19 L397.10 53.23 L398.60 53.27 L400.10 53.31 L401.60 53.34 L403.10 53.38 L404.00 53.40 L404.60 53.41 L406.10 53.45 L407.60 53.48 L409.10 53.51 L410.60 53.54 L412.10 53.57 L413.60 53.60 L415.10 53.63 L416.60 53.66 L418.10 53.69 L419.60 53.72 L421.10 53.75 L422.60 53.77 L424.10 53.80 L425.60 53.83 L427.10 53.85 L428.60 53.88 L430.10 53.90 L431.60 53.92 L433.10 53.94 L434.60 53.97 L436.10 53.99 L437.60 54.00 L439.10 54.02 L440.60 54.04 L442.10 54.06 L443.60 54.07 L445.10 54.09 L446.60 54.10 L446.80 54.10"/>
<path stroke="#5f00ff" d="M71.60 7.30 L73.10 7.38 L74.60 7.58 L76.10 7.87 L77.60 8.21 L78.00 8.30 L79.10 8.63 L80.60 9.24 L82.00 9.90 L82.10 9.95 L83.60 10.76 L85.10 11.66 L86.00 12.20 L86.60 12.56 L88.10 13.46 L89.60 14.37 L90.00 14.60 L91.10 15.24 L92.60 16.10 L94.10 16.95 L95.60 17.77 L97.00 18.50 L97.10 18.55 L98.60 19.31 L100.10 20.06 L101.60 20.78 L103.10 21.44 L104.00 21.80 L104.60 22.03 L106.10 22.55 L107.60 23.04 L109.10 23.51 L110.00 23.80 L110.60 24.00 L112.10 24.50 L113.60 25.00 L115.10 25.50 L116.60 25.98 L118.00 26.40 L118.10 26.43 L119.60 26.86 L121.10 27.29 L122.60 27.71 L124.10 28.11 L125.60 28.49 L127.10 28.86 L128.60 29.21 L129.00 29.30 L130.10 29.54 L131.60 29.86 L133.10 30.16 L134.60 30.46 L136.10 30.74 L137.60 31.02 L139.10 31.28 L140.60 31.54 L142.10 31.79 L143.60 32.04 L144.00 32.10 L145.10 32.27 L146.60 32.50 L148.10 32.72 L149.60 32.93 L151.10 33.14 L152.60 33.34 L154.10 33.54 L155.60 33.74 L157.10 33.93 L158.60 34.13 L158.75 34.15 L160.10 34.33 L161.60 34.53 L163.10 34.73 L164.60 34.94 L166.10 35.14 L167.60 35.35 L169.10 35.55 L170.60 35.75 L172.10 35.95 L173.60 36.15 L175.10 36.34 L176.60 36.52 L178.10 36.70 L179.60 36.87 L181.10 37.03 L182.60 37.19 L184.10 37.33 L185.60 37.47 L186.00 37.50 L187.10 37.59 L188.60 37.71 L190.10 37.83 L191.60 37.95 L193.10 38.06 L194.60 38.17 L196.10 38.28 L197.60 38.38 L199.10 38.49 L200.60 38.59 L202.10 38.69 L203.60 38.78 L205.10 38.88 L206.60 38.97 L208.10 39.06 L209.60 39.15 L211.10 39.24 L212.60 39.32 L214.10 39.41 L215.60 39.49 L217.10 39.57 L218.60 39.65 L220.10 39.73 L221.60 39.81 L223.10 39.89 L224.60 39.97 L226.10 40.04 L227.60 40.12 L229.10 40.20 L230.60 40.27 L232.10 40.35 L233.60 40.42 L235.10 40.50 L236.60 40.57 L238.10 40.65 L239.60 40.73 L241.10 40.80 L242.60 40.88 L243.00 40.90 L244.10 40.96 L245.60 41.03 L247.10 41.11 L248.60 41.19 L250.10 41.26 L251.60 41.34 L253.10 41.41 L254.60 41.49 L256.10 41.56 L257.60 41.63 L259.10 41.71 L260.60 41.78 L262.10 41.85 L263.60 41.92 L265.10 41.99 L266.60 42.06 L268.10 42.14 L269.60 42.20 L271.10 42.27 L272.60 42.34 L274.10 42.41 L275.60 42.48 L277.10 42.54 L278.60 42.61 L280.10 42.68 L281.60 42.74 L283.10 42.81 L284.60 42.87 L286.10 42.94 L287.60 43.00 L289.10 43.06 L290.60 43.12 L292.10 43.19 L293.60 43.25 L295.10 43.31 L296.60 43.37 L298.10 43.43 L299.60 43.48 L300.00 43.50 L301.10 43.54 L302.60 43.60 L304.10 43.66 L305.60 43.71 L307.10 43.76 L308.60 43.82 L310.10 43.87 L311.60 43.92 L313.10 43.97 L314.60 44.02 L316.10 44.07 L317.60 44.12 L319.10 44.17 L320.60 44.22 L322.10 44.27 L323.60 44.32 L325.10 44.37 L326.60 44.42 L328.10 44.47 L329.60 44.51 L331.10 44.56 L332.60 44.61 L334.10 44.66 L335.60 44.71 L337.10 44.76 L338.60 44.81 L340.10 44.86 L341.60 44.92 L343.10 44.97 L344.00 45.00 L344.60 45.02 L346.10 45.08 L347.60 45.13 L349.10 45.19 L350.60 45.25 L352.10 45.31 L353.60 45.37 L355.10 45.43 L356.60 45.49 L358.10 45.56 L359.60 45.62 L361.10 45.69 L362.60 45.75 L364.10 45.81 L365.60 45.88 L367.10 45.94 L368.60 46.01 L370.10 46.07 L371.60 46.13 L373.10 46.20 L374.60 46.26 L376.10 46.32 L377.60 46.38 L379.10 46.44 L380.60 46.50 L382.10 46.56 L383.60 46.61 L385.10 46.67 L386.60 46.72 L388.10 46.77 L389.60 46.82 L391.10 46.87 L392.60 46.91 L394.10 46.96 L395.60 47.00 L397.10 47.03 L398.60 47.07 L400.00 47.10 L400.10 47.10 L401.60 47.13 L403.10 47.16 L404.60 47.20 L406.10 47.23 L407.60 47.26 L409.10 47.29 L410.60 47.32 L412.10 47.35 L413.60 47.37 L415.10 47.40 L416.60 47.43 L418.10 47.46 L419.60 47.48 L421.10 47.51 L422.60 47.53 L424.10 47.56 L425.60 47.58 L427.10 47.60 L428.60 47.62 L430.10 47.64 L431.60 47.66 L433.10 47.68 L434.60 47.70 L436.10 47.72 L437.60 47.73 L439.10 47.75 L440.60 47.76 L442.10 47.77 L443.60 47.78 L445.10 47.79 L446.60 47.80 L446.80 47.80"/>
<path stroke="#2d00ff" d="M71.60 7.30 L73.10 7.35 L74.60 7.47 L76.10 7.64 L77.60 7.84 L78.00 7.90 L79.10 8.10 L80.60 8.48 L82.00 8.90 L82.10 8.93 L83.60 9.51 L85.10 10.19 L86.00 10.60 L86.60 10.87 L88.10 11.58 L89.60 12.31 L90.00 12.50 L91.10 13.03 L92.60 13.77 L94.10 14.51 L95.60 15.24 L97.00 15.90 L97.10 15.95 L98.60 16.65 L100.10 17.36 L101.60 18.04 L103.10 18.66 L104.00 19.00 L104.60 19.21 L106.10 19.69 L107.60 20.12 L109.10 20.54 L110.00 20.80 L110.60 20.97 L112.10 21.40 L113.60 21.83 L115.10 22.24 L116.60 22.64 L118.00 23.00 L118.10 23.02 L119.60 23.40 L121.10 23.76 L122.60 24.11 L124.10 24.45 L125.60 24.78 L127.10 25.11 L128.60 25.42 L129.00 25.50 L130.10 25.72 L131.60 26.02 L133.10 26.31 L134.60 26.59 L136.10 26.87 L137.60 27.14 L139.10 27.40 L140.60 27.66 L142.10 27.90 L143.60 28.14 L144.00 28.20 L145.10 28.37 L146.60 28.58 L148.10 28.80 L149.60 29.00 L151.10 29.20 L152.60 29.39 L154.10 29.58 L155.60 29.77 L157.10 29.95 L158.60 30.13 L158.75 30.15 L160.10 30.31 L161.60 30.49 L163.10 30.68 L164.60 30.86 L166.10 31.04 L167.60 31.22 L169.10 31.40 L170.60 31.57 L172.10 31.74 L173.60 31.91 L175.10 32.08 L176.60 32.24 L178.10 32.39 L179.60 32.54 L181.10 32.68 L182.60 32.82 L184.10 32.95 L185.60 33.07 L186.00 33.10 L187.10 33.18 L188.60 33.29 L190.10 33.40 L191.60 33.51 L193.10 33.61 L194.60 33.71 L196.10 33.81 L197.60 33.91 L199.10 34.00 L200.60 34.09 L202.10 34.18 L203.60 34.27 L205.10 34.36 L206.60 34.44 L208.10 34.53 L209.60 34.61 L211.10 34.69 L212.60 34.77 L214.10 34.85 L215.60 34.93 L217.10 35.00 L218.60 35.08 L220.10 35.15 L221.60 35.22 L223.10 35.30 L224.60 35.37 L226.10 35.44 L227.60 35.51 L229.10 35.59 L230.60 35.66 L232.10 35.73 L233.60 35.80 L235.10 35.87 L236.60 35.94 L238.10 36.01 L239.60 36.09 L241.10 36.16 L242.60 36.23 L243.00 36.25 L244.10 36.30 L245.60 36.38 L247.10 36.45 L248.60 36.52 L250.10 36.59 L251.60 36.66 L253.10 36.73 L254.60 36.80 L256.10 36.87 L257.60 36.94 L259.10 37.01 L260.60 37.07 L262.10 37.14 L263.60 37.21 L265.10 37.27 L266.60 37.34 L268.10 37.40 L269.60 37.47 L271.10 37.53 L272.60 37.60 L274.10 37.66 L275.60 37.73 L277.10 37.79 L278.60 37.86 L280.10 37.92 L281.60 37.98 L283.10 38.05 L284.60 38.11 L286.10 38.17 L287.60 38.23 L289.10 38.30 L290.60 38.36 L292.10 38.42 L293.60 38.48 L295.10 38.55 L296.60 38.61 L298.10 38.67 L299.60 38.73 L300.00 38.75 L301.10 38.80 L302.60 38.86 L304.10 38.92 L305.60 38.99 L307.10 39.05 L308.60 39.11 L310.10 39.18 L311.60 39.24 L313.10 39.30 L314.60 39.37 L316.10 39.43 L317.60 39.49 L319.10 39.56 L320.60 39.62 L322.10 39.68 L323.60 39.74 L325.10 39.80 L326.60 39.86 L328.10 39.92 L329.60 39.98 L331.10 40.04 L332.60 40.10 L334.10 40.15 L335.60 40.21 L337.10 40.26 L338.60 40.32 L340.10 40.37 L341.60 40.42 L343.10 40.47 L344.00 40.50 L344.60 40.52 L346.10 40.57 L347.60 40.61 L349.10 40.66 L350.60 40.71 L352.10 40.75 L353.60 40.80 L355.10 40.84 L356.60 40.89 L358.10 40.93 L359.60 40.98 L361.10 41.02 L362.60 41.06 L364.10 41.10 L365.60 41.15 L367.10 41.19 L368.60 41.23 L370.10 41.27 L371.60 41.31 L373.10 41.35 L374.60 41.39 L376.10 41.43 L377.60 41.47 L379.10 41.50 L380.60 41.54 L382.10 41.58 L383.60 41.62 L385.10 41.65 L386.60 41.69 L388.10 41.73 L389.60 41.76 L391.10 41.80 L392.60 41.83 L394.10 41.87 L395.60 41.90 L397.10 41.93 L398.60 41.97 L400.00 42.00 L400.10 42.00 L401.60 42.04 L403.10 42.07 L404.60 42.10 L406.10 42.13 L407.60 42.17 L409.10 42.20 L410.60 42.23 L412.10 42.26 L413.60 42.29 L415.10 42.32 L416.60 42.35 L418.10 42.38 L419.60 42.41 L421.10 42.44 L422.60 42.47 L424.10 42.50 L425.60 42.53 L427.10 42.56 L428.60 42.59 L430.10 42.61 L431.60 42.64 L433.10 42.67 L434.60 42.70 L436.10 42.72 L437.60 42.75 L439.10 42.77 L440.60 42.80 L442.10 42.82 L443.60 42.85 L445.10 42.87 L446.60 42.90 L446.80 42.90"/>
<path stroke="#0000ff" d="M71.60 7.30 L73.10 7.32 L74.60 7.38 L76.10 7.47 L77.60 7.57 L78.00 7.60 L79.10 7.71 L80.60 7.94 L82.00 8.20 L82.10 8.22 L83.60 8.62 L85.10 9.10 L85.40 9.20 L86.60 9.59 L88.10 10.11 L89.60 10.65 L90.00 10.80 L91.10 11.22 L92.60 11.82 L94.10 12.43 L95.60 13.05 L97.00 13.60 L97.10 13.64 L98.60 14.22 L100.10 14.80 L101.60 15.37 L103.10 15.90 L104.00 16.20 L104.60 16.39 L106.10 16.83 L107.60 17.25 L109.10 17.66 L110.00 17.90 L110.60 18.06 L112.10 18.48 L113.60 18.89 L115.10 19.29 L116.60 19.67 L118.00 20.00 L118.10 20.02 L119.60 20.35 L121.10 20.65 L122.60 20.94 L124.10 21.22 L125.60 21.49 L127.10 21.76 L128.60 22.03 L129.00 22.10 L130.10 22.30 L131.60 22.56 L133.10 22.83 L134.60 23.09 L136.10 23.35 L137.60 23.61 L139.10 23.85 L140.60 24.09 L142.10 24.32 L143.60 24.54 L144.00 24.60 L145.10 24.75 L146.60 24.95 L148.10 25.14 L149.60 25.33 L151.10 25.51 L152.60 25.69 L154.10 25.86 L155.60 26.03 L157.10 26.21 L158.60 26.38 L158.75 26.40 L160.10 26.56 L161.60 26.74 L163.10 26.93 L164.60 27.12 L166.10 27.31 L167.60 27.50 L169.10 27.69 L170.60 27.87 L172.10 28.06 L173.60 28.24 L175.10 28.42 L176.60 28.59 L178.10 28.75 L179.60 28.90 L181.10 29.05 L182.60 29.19 L184.10 29.31 L185.60 29.42 L186.00 29.45 L187.10 29.52 L188.60 29.62 L190.10 29.72 L191.60 29.81 L193.10 29.90 L194.60 29.98 L196.10 30.07 L197.60 30.15 L199.10 30.23 L200.60 30.30 L202.10 30.38 L203.60 30.45 L205.10 30.52 L206.60 30.59 L208.10 30.65 L209.60 30.72 L211.10 30.78 L212.60 30.84 L214.10 30.90 L215.60 30.96 L217.10 31.02 L218.60 31.08 L220.10 31.14 L221.60 31.20 L223.10 31.26 L224.60 31.31 L226.10 31.37 L227.60 31.43 L229.10 31.48 L230.60 31.54 L232.10 31.60 L233.60 31.66 L235.10 31.72 L236.60 31.78 L238.10 31.84 L239.60 31.90 L241.10 31.97 L242.60 32.03 L243.00 32.05 L244.10 32.10 L245.60 32.16 L247.10 32.23 L248.60 32.30 L250.10 32.36 L251.60 32.43 L253.10 32.50 L254.60 32.56 L256.10 32.63 L257.60 32.69 L259.10 32.76 L260.60 32.82 L262.10 32.89 L263.60 32.95 L265.10 33.02 L266.60 33.08 L268.10 33.15 L269.60 33.21 L271.10 33.28 L272.60 33.34 L274.10 33.41 L275.60 33.47 L277.10 33.54 L278.60 33.60 L280.10 33.67 L281.60 33.73 L283.10 33.79 L284.60 33.86 L286.10 33.92 L287.60 33.98 L289.10 34.05 L290.60 34.11 L292.10 34.17 L293.60 34.23 L295.10 34.30 L296.60 34.36 L298.10 34.42 L299.60 34.48 L300.00 34.50 L301.10 34.55 L302.60 34.61 L304.10 34.67 L305.60 34.73 L307.10 34.79 L308.60 34.86 L310.10 34.92 L311.60 34.98 L313.10 35.04 L314.60 35.11 L316.10 35.17 L317.60 35.23 L319.10 35.29 L320.60 35.35 L322.10 35.41 L323.60 35.47 L325.10 35.53 L326.60 35.59 L328.10 35.65 L329.60 35.71 L331.10 35.77 L332.60 35.83 L334.10 35.89 L335.60 35.94 L337.10 36.00 L338.60 36.06 L340.10 36.11 L341.60 36.16 L343.10 36.22 L344.00 36.25 L344.60 36.27 L346.10 36.32 L347.60 36.38 L349.10 36.43 L350.60 36.48 L352.10 36.53 L353.60 36.58 L355.10 36.64 L356.60 36.69 L358.10 36.74 L359.60 36.79 L361.10 36.84 L362.60 36.89 L364.10 36.94 L365.60 36.99 L367.10 37.04 L368.60 37.09 L370.10 37.13 L371.60 37.18 L373.10 37.23 L374.60 37.28 L376.10 37.32 L377.60 37.37 L379.10 37.42 L380.60 37.46 L382.10 37.51 L383.60 37.55 L385.10 37.59 L386.60 37.64 L388.10 37.68 L389.60 37.72 L391.10 37.76 L392.60 37.81 L394.10 37.85 L395.60 37.89 L397.10 37.93 L398.60 37.96 L400.00 38.00 L400.10 38.00 L401.60 38.04 L403.10 38.08 L404.60 38.11 L406.10 38.15 L407.60 38.19 L409.10 38.22 L410.60 38.26 L412.10 38.29 L413.60 38.33 L415.10 38.36 L416.60 38.40 L418.10 38.43 L419.60 38.47 L421.10 38.50 L422.60 38.53 L424.10 38.56 L425.60 38.60 L427.10 38.63 L428.60 38.66 L430.10 38.69 L431.60 38.72 L433.10 38.75 L434.60 38.78 L436.10 38.81 L437.60 38.84 L439.10 38.86 L440.60 38.89 L442.10 38.92 L443.60 38.94 L445.10 38.97 L446.60 39.00 L446.80 39.00"/>
</g>
<g stroke="#000" stroke-width="2" fill="none">
<rect x="71.4" y="7.3" width="375.4" height="249.9"/>
<path d="M102.68 257.20 v-6.50 M102.68 7.30 v6.50 M133.97 257.20 v-6.50 M133.97 7.30 v6.50 M165.25 257.20 v-6.50 M165.25 7.30 v6.50 M196.53 257.20 v-13.00 M196.53 7.30 v13.00 M227.82 257.20 v-6.50 M227.82 7.30 v6.50 M259.10 257.20 v-6.50 M259.10 7.30 v6.50 M290.38 257.20 v-6.50 M290.38 7.30 v6.50 M321.67 257.20 v-13.00 M321.67 7.30 v13.00 M352.95 257.20 v-6.50 M352.95 7.30 v6.50 M384.23 257.20 v-6.50 M384.23 7.30 v6.50 M415.52 257.20 v-6.50 M415.52 7.30 v6.50 M71.40 21.58 h6.50 M446.80 21.58 h-6.50 M71.40 35.86 h6.50 M446.80 35.86 h-6.50 M71.40 50.14 h6.50 M446.80 50.14 h-6.50 M71.40 64.42 h6.50 M446.80 64.42 h-6.50 M71.40 78.70 h13.00 M446.80 78.70 h-13.00 M71.40 92.98 h6.50 M446.80 92.98 h-6.50 M71.40 107.26 h6.50 M446.80 107.26 h-6.50 M71.40 121.54 h6.50 M446.80 121.54 h-6.50 M71.40 135.82 h6.50 M446.80 135.82 h-6.50 M71.40 150.10 h13.00 M446.80 150.10 h-13.00 M71.40 164.38 h6.50 M446.80 164.38 h-6.50 M71.40 178.66 h6.50 M446.80 178.66 h-6.50 M71.40 192.94 h6.50 M446.80 192.94 h-6.50 M71.40 207.22 h6.50 M446.80 207.22 h-6.50 M71.40 221.50 h13.00 M446.80 221.50 h-13.00 M71.40 235.78 h6.50 M446.80 235.78 h-6.50 M71.40 250.06 h6.50 M446.80 250.06 h-6.50"/>
</g>
<g opacity="0.999" font-family="'Liberation Sans', sans-serif" font-size="19.5" fill="#000" stroke="#000" stroke-width="0.5">
<text transform="translate(61.2 14.40) scale(1.20 1)" text-anchor="end">0</text>
<text transform="translate(61.2 85.80) scale(1.20 1)" text-anchor="end">−1</text>
<text transform="translate(61.2 157.20) scale(1.20 1)" text-anchor="end">−2</text>
<text transform="translate(61.2 228.60) scale(1.20 1)" text-anchor="end">−3</text>
<text transform="translate(71.40 281.9) scale(1.20 1)" text-anchor="middle">0</text>
<text transform="translate(196.53 281.9) scale(1.20 1)" text-anchor="middle">20</text>
<text transform="translate(321.67 281.9) scale(1.20 1)" text-anchor="middle">40</text>
<text transform="translate(446.80 281.9) scale(1.20 1)" text-anchor="middle">60</text>
</g>
<g opacity="0.999" font-family="'Liberation Serif', serif" fill="#000" stroke="#000" text-anchor="middle">
<text transform="translate(228.40 308.20) scale(1.150 1)" font-size="21" stroke-width="0.45">t</text>
<text transform="translate(257.40 308.20) scale(0.840 1)" font-size="21" stroke-width="0.70">G</text>
<text transform="translate(268.60 308.20) scale(1.050 1)" font-size="21" stroke-width="0.60">y</text>
<text transform="translate(280.50 308.20) scale(1.400 1)" font-size="21" stroke-width="0.30">r</text>
</g>
<path d="M249.9 291.8 H244.6 V310.6 H249.9 M286.9 291.8 H292.2 V310.6 H286.9" fill="none" stroke="#000" stroke-width="1.7"/>
<g opacity="0.999" transform="translate(17 0) rotate(-90)" font-family="'Liberation Serif', serif" fill="#000" stroke="#000" text-anchor="middle">
<text transform="translate(-176.10 0.00) scale(1.000 1)" font-size="21" stroke-width="0.80">l</text>
<text transform="translate(-167.30 0.00) scale(0.950 1)" font-size="21" stroke-width="0.80">o</text>
<text transform="translate(-156.40 0.00) scale(1.000 1)" font-size="21" stroke-width="0.80">g</text>
<text transform="translate(-137.40 0.00) scale(1.000 1)" font-size="21" stroke-width="0.80">f</text>
<text x="-113.8" y="5.3" font-family="'Liberation Sans', sans-serif" font-size="12.5" stroke-width="0.75" letter-spacing="0.3">bound</text>
</g>
<path d="M1.9 143.2 V147.8 H19.8 V143.2 M1.9 93.2 V89 H20.1 V93.2" fill="none" stroke="#000" stroke-width="2"/>
</svg>
</body></html>
